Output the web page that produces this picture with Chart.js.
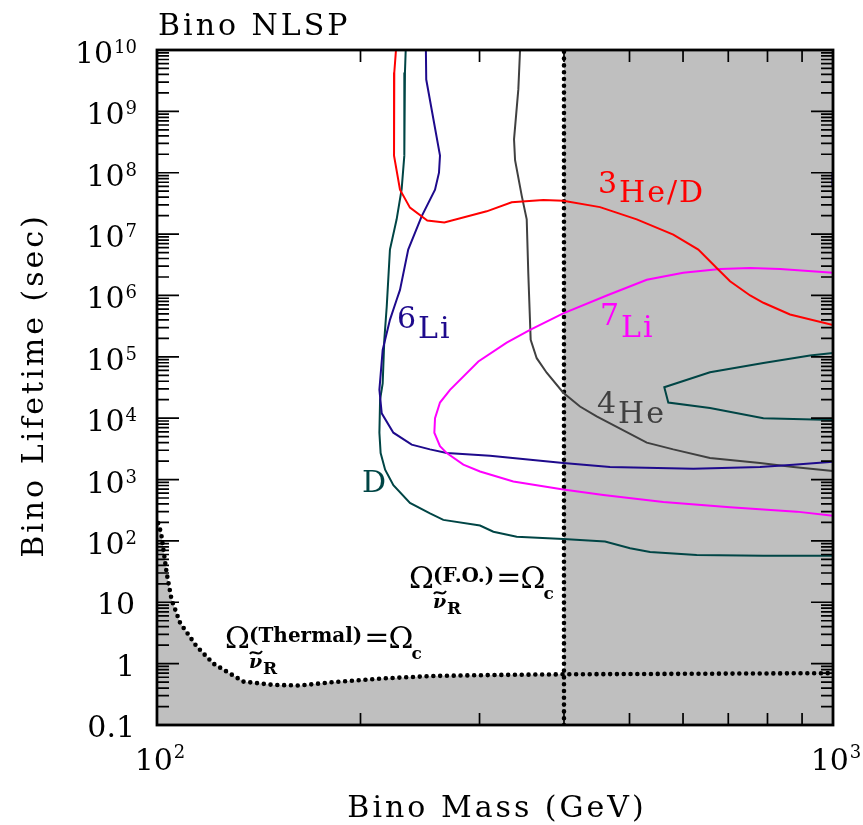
<!DOCTYPE html>
<html>
<head>
<meta charset="utf-8">
<script src="https://cdn.jsdelivr.net/npm/chart.js@4"></script>
<style>
  html, body { margin: 0; padding: 0; background: #fff; }
</style>
</head>
<body>
<canvas id="chart" width="863" height="825"></canvas>
<script>
// CURVE DATA (mass in GeV, lifetime in sec)
const heDMass = [225.7, 224.4, 224.2, 228.8, 236.7, 251.1, 266.1, 307.4, 334.7, 372.8, 399, 452.2, 512.5, 580.4, 632.1, 672.9, 704.2, 754.1, 788.9, 863.8, 1000];
const heDLife = [1e10, 4.3e9, 1.9e8, 5.3e7, 2.7e7, 1.66e7, 1.55e7, 2.35e7, 3.3e7, 3.6e7, 3.5e7, 2.75e7, 1.74e7, 9.8e6, 5.6e6, 2.8e6, 1.7e6, 1.0e6, 7.6e5, 4.9e5, 3.3e5];

const li7Mass = [1000, 835.3, 754.1, 680.4, 600.4, 530.3, 462.8, 399, 356.3, 329.1, 298.8, 271.3, 262.2, 257.8, 257.2, 262.2, 268.3, 283.9, 300.5, 336.6, 399, 457.4, 561.1, 704.2, 883.7, 1000];
const li7Life = [2.35e6, 2.7e6, 2.8e6, 2.7e6, 2.35e6, 1.8e6, 1.0e6, 5.1e5, 2.75e5, 1.7e5, 8.4e4, 2.9e4, 1.8e4, 1.0e4, 5.8e3, 3.5e3, 2.7e3, 1.75e3, 1.35e3, 930, 690, 560, 430, 355, 300, 257];

const li6Mass = [249.9, 250.2, 262.2, 261.3, 257.8, 246.3, 235.3, 228.8, 226.2, 221.1, 217.5, 215.7, 213.3, 215, 223.7, 238.1, 253.4, 268.3, 310.9, 399, 467.9, 621.4, 779.9, 873.6, 1000];
const li6Life = [1e10, 3.3e9, 1.9e8, 1.0e8, 5.3e7, 1.95e7, 5.6e6, 1.23e6, 8.5e5, 4.0e5, 1.9e5, 1.3e5, 2.9e4, 1.2e4, 5.8e3, 3.7e3, 3.1e3, 2.7e3, 2.45e3, 1.86e3, 1.6e3, 1.5e3, 1.6e3, 1.75e3, 1.95e3];
const li6EdgeMass = [998, 998];
const li6EdgeLife = [1.0e8, 5.9e7];

const he4Mass = [344.4, 342.4, 337.4, 338.6, 346.4, 352.3, 354.2, 357.1, 364.5, 377.1, 399, 422.4, 447.1, 530.3, 580.4, 657.7, 779.9, 873.6, 1000];
const he4Life = [1e10, 2.3e9, 3.5e8, 1.6e8, 4.2e7, 1.74e7, 2.3e6, 1.9e5, 9.5e4, 5.5e4, 2.6e4, 1.55e4, 1.07e4, 4.0e3, 3.1e3, 2.25e3, 1.86e3, 1.6e3, 1.38e3];

const dMass = [233.3, 232.7, 232.2, 230.1, 226.2, 221.1, 218.7, 216.9, 215.7, 213.8, 213.3, 214.2, 217.5, 223.7, 236.7, 253.4, 265.2, 300.5, 314.5, 340.5, 399, 460, 501, 536.3, 628.5, 788.9, 1000];
const dLife = [1e10, 4.3e9, 1.9e8, 5.4e7, 1.74e7, 5.6e6, 6.6e5, 1.9e5, 3.7e4, 2.0e4, 5.8e3, 2.7e3, 1.45e3, 810, 415, 280, 220, 178, 141, 117, 107, 98, 76, 66, 59, 57.5, 57.5];

const dIslandMass = [1000, 924.7, 788.9, 657.7, 562.9, 570.6, 657.7, 788.9, 1000];
const dIslandLife = [1.15e5, 1.05e5, 7.9e4, 5.6e4, 3.2e4, 1.8e4, 1.46e4, 1.0e4, 9.3e3];

// relic density boundaries
const thermalMass = [100.4, 101.4, 103.4, 105.1, 108.2, 114.5, 121.2, 134.2, 148.7, 162.8, 182.1, 216.2, 256.6, 321.3, 399, 550, 750, 1000];
const thermalLife = [195, 135, 29, 11, 4.6, 1.9, 1.0, 0.51, 0.45, 0.44, 0.5, 0.575, 0.63, 0.655, 0.67, 0.68, 0.69, 0.70];
const foMass = [400, 400];
const foLife = [0.1, 1e10];
const excludedMass = [400, 1000];
const excludedLife = [1e10, 1e10];

// TICKS
const xMinor = [200, 300, 400, 500, 600, 700, 800, 900];
const xTickVals = [100, 1000];
const xTickText = [["10", "2"], ["10", "3"]];
const yTickVals = [1e10, 1e9, 1e8, 1e7, 1e6, 1e5, 1e4, 1e3, 1e2, 10, 1, 0.1];
const yTickText = [["10", "10"], ["10", "9"], ["10", "8"], ["10", "7"], ["10", "6"], ["10", "5"], ["10", "4"], ["10", "3"], ["10", "2"], ["10", ""], ["1", ""], ["0.1", ""]];

const SERIF = '"DejaVu Serif", serif';
const GRAY = "#bfbfbf";

function pts(mass, life) {
  return mass.map((m, i) => ({ x: m, y: life[i] }));
}

function curve(mass, life, color) {
  return { data: pts(mass, life), borderColor: color, borderWidth: 2, showLine: true, pointRadius: 0, fill: false };
}

function dotted(mass, life, fill) {
  return {
    data: pts(mass, life), borderColor: "#000", borderWidth: 4.6, borderDash: [0, 6.8],
    borderCapStyle: "round", showLine: true, pointRadius: 0,
    fill: fill ? "start" : false, backgroundColor: GRAY
  };
}

// draw pieces of text one after another: [text, font, color, dy, extra gap]
function rich(ctx, x, y, parts, ls) {
  ctx.letterSpacing = ls || "0px";
  parts.forEach(p => {
    ctx.font = p[1];
    ctx.fillStyle = p[2];
    ctx.fillText(p[0], x, y + (p[3] || 0));
    x += ctx.measureText(p[0]).width + (p[4] || 0);
  });
  ctx.letterSpacing = "0px";
}

function omega(ctx, o) {
  ctx.fillStyle = "#000";
  ctx.font = "30px " + SERIF;
  ctx.fillText("\u03A9", o.x - 1, o.y);
  ctx.font = "bold 20px " + SERIF;
  ctx.fillText(o.sup, o.x + 23, o.y - 6);
  const eqX = o.x + 23 + ctx.measureText(o.sup).width + 2;
  ctx.font = "30px " + SERIF;
  ctx.fillText("=", eqX, o.y - 1);
  const om2 = eqX + ctx.measureText("=").width - 1;
  ctx.fillText("\u03A9", om2, o.y);
  ctx.font = "bold 17px " + SERIF;
  ctx.fillText("c", om2 + 23, o.y + 11);
  ctx.font = "italic bold 19px " + SERIF;
  ctx.fillText("\u03BD", o.x + 23, o.y + 20);
  ctx.font = "bold 17px " + SERIF;
  ctx.fillText("R", o.x + 37, o.y + 26);
  ctx.lineWidth = 2;
  ctx.strokeStyle = "#000";
  ctx.beginPath();
  const tx = o.x + 24, ty = o.y + 6;
  ctx.moveTo(tx, ty);
  ctx.bezierCurveTo(tx + 3, ty - 6, tx + 8, ty + 4, tx + 12, ty - 3);
  ctx.stroke();
}

const decor = {
  id: "decor",
  afterDatasetsDraw(chart) {
    const { ctx, chartArea: a, scales: { x, y } } = chart;
    ctx.save();

    // frame and inward ticks
    ctx.strokeStyle = "#000";
    ctx.lineWidth = 1.7;
    ctx.beginPath();
    xMinor.forEach(v => {
      const px = x.getPixelForValue(v);
      ctx.moveTo(px, a.bottom); ctx.lineTo(px, a.bottom - 12);
      ctx.moveTo(px, a.top); ctx.lineTo(px, a.top + 12);
    });
    for (let e = -1; e < 10; e++) {
      for (let k = 1; k < 10; k++) {
        const py = y.getPixelForValue(k * Math.pow(10, e));
        const len = k === 1 ? 22 : 12;
        ctx.moveTo(a.left, py); ctx.lineTo(a.left + len, py);
        ctx.moveTo(a.right, py); ctx.lineTo(a.right - len, py);
      }
    }
    ctx.stroke();
    ctx.lineWidth = 2.8;
    ctx.strokeRect(a.left, a.top, a.right - a.left, a.bottom - a.top);

    // y tick labels
    ctx.fillStyle = "#000";
    ctx.textAlign = "right";
    yTickVals.forEach((v, i) => {
      const py = y.getPixelForValue(v);
      const [base, sup] = yTickText[i];
      let right = a.left - 20;
      if (sup) {
        ctx.font = "18px " + SERIF;
        ctx.fillText(sup, right, py + 3);
        right -= ctx.measureText(sup).width + 1;
        ctx.font = "30px " + SERIF;
        ctx.fillText(base, right, py + 13);
      } else {
        ctx.font = "30px " + SERIF;
        ctx.fillText(base, right - 2, py + 12);
      }
    });

    // x tick labels
    ctx.textAlign = "left";
    xTickVals.forEach((v, i) => {
      const px = x.getPixelForValue(v);
      const [base, sup] = xTickText[i];
      ctx.font = "30px " + SERIF;
      const wb = ctx.measureText(base).width;
      ctx.font = "18px " + SERIF;
      const ws = ctx.measureText(sup).width;
      const left = px + 3 - (wb + ws + 1) / 2;
      ctx.font = "30px " + SERIF;
      ctx.fillText(base, left, a.bottom + 45);
      ctx.font = "18px " + SERIF;
      ctx.fillText(sup, left + wb + 1, a.bottom + 33);
    });

    // titles
    ctx.letterSpacing = "3px";
    ctx.font = "30px " + SERIF;
    ctx.textAlign = "center";
    ctx.fillText("Bino Mass (GeV)", (a.left + a.right) / 2 + 2, a.bottom + 92);
    ctx.save();
    ctx.translate(43, (a.top + a.bottom) / 2 - 2);
    ctx.rotate(-Math.PI / 2);
    ctx.fillText("Bino Lifetime (sec)", 0, 0);
    ctx.restore();
    ctx.textAlign = "left";
    ctx.fillText("Bino NLSP", a.left + 1, 35);
    ctx.letterSpacing = "0px";

    // curve labels
    const F = "30px " + SERIF;
    rich(ctx, 598, 201.5, [["3", F, "#ff0000", -9, 0], ["He/D", F, "#ff0000", 0]], "2px");
    rich(ctx, 600, 337, [["7", F, "#ff00ff", -12, 0], ["Li", F, "#ff00ff", 0]], "2px");
    rich(ctx, 397, 338, [["6", F, "#1e0a8c", -10, 0], ["Li", F, "#1e0a8c", 0]], "2px");
    rich(ctx, 597, 423, [["4", F, "#404040", -10, 0], ["He", F, "#404040", 0]], "2px");
    rich(ctx, 362, 492, [["D", F, "#004545", 0]], "2px");

    omega(ctx, { x: 226, y: 648, sup: "(Thermal)" });
    omega(ctx, { x: 410, y: 588, sup: "(F.O.)" });

    ctx.restore();
  }
};

new Chart(document.getElementById("chart"), {
  type: "scatter",
  data: {
    datasets: [
      curve(heDMass, heDLife, "#ff0000"),
      curve(li7Mass, li7Life, "#ff00ff"),
      curve(li6Mass, li6Life, "#1e0a8c"),
      curve(li6EdgeMass, li6EdgeLife, "#1e0a8c"),
      curve(he4Mass, he4Life, "#404040"),
      curve(dMass, dLife, "#004545"),
      curve(dIslandMass, dIslandLife, "#004545"),
      dotted(foMass, foLife, false),
      dotted(thermalMass, thermalLife, true),
      { data: pts(excludedMass, excludedLife), showLine: true, borderWidth: 0, pointRadius: 0, fill: "start", backgroundColor: GRAY, borderColor: GRAY }
    ]
  },
  options: {
    responsive: false,
    animation: false,
    devicePixelRatio: 1,
    layout: { padding: { left: 157, right: 30, top: 50, bottom: 100 } },
    plugins: { legend: { display: false }, tooltip: { enabled: false } },
    scales: {
      x: { type: "logarithmic", min: 100, max: 1000, display: false },
      y: { type: "logarithmic", min: 0.1, max: 1e10, display: false }
    }
  },
  plugins: [decor]
});
</script>
</body>
</html>
